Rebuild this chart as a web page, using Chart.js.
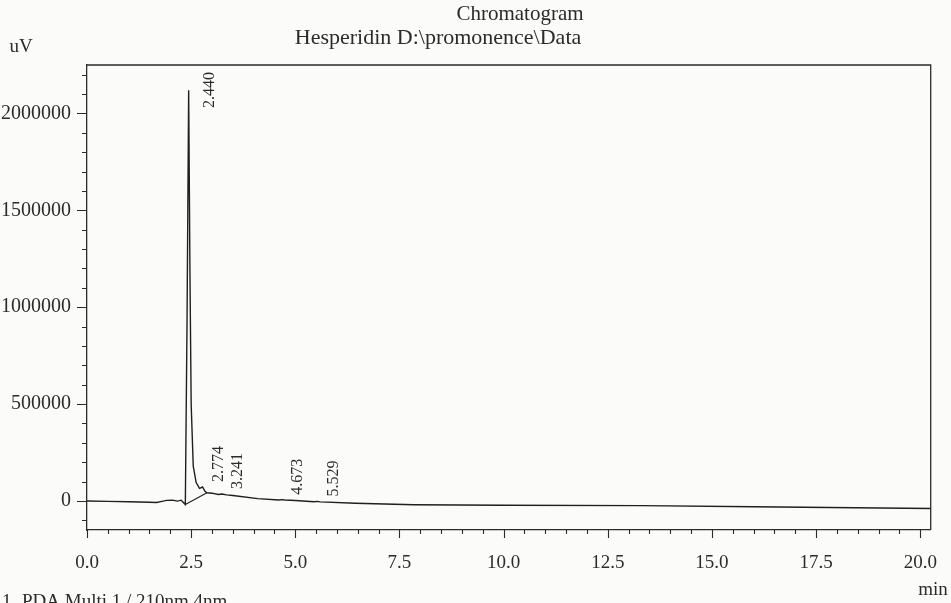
<!DOCTYPE html>
<html>
<head>
<meta charset="utf-8">
<title>Chromatogram</title>
<script src="https://cdn.jsdelivr.net/npm/chart.js@4.4.1/dist/chart.umd.min.js"></script>
<style>
  html, body { margin: 0; padding: 0; background: #fbfbf9; }
  #chromatogram { display: block; }
</style>
</head>
<body>
<canvas id="chromatogram" width="951" height="603"></canvas>
<script>
// retention time (min) and detector response (uV)
var times = [0, 0.5, 1.0, 1.5, 1.67, 1.8, 1.91, 2.05, 2.17, 2.26,
  2.36, 2.40, 2.44, 2.47, 2.50, 2.55, 2.62, 2.70, 2.774, 2.83,
  2.88, 3.0, 3.15, 3.241, 3.35, 3.5, 4.1, 4.6, 4.673, 4.75,
  5.0, 5.45, 5.529, 5.6, 6.44, 7.85, 10.0, 13.3, 16.0, 20.25];
var signal = [0, -2000, -4000, -7000, -8000, -2000, 3000, 4000, -1000, 4000,
  -18000, 900000, 2120000, 1200000, 500000, 180000, 95000, 65000, 72000, 50000,
  42000, 40000, 33000, 36000, 31000, 28000, 12000, 5000, 6500, 4500,
  2500, -4000, -2500, -5000, -12000, -20000, -22000, -24000, -30000, -39000];

// integration baseline drawn under the main peak
var baseTimes = [2.36, 2.88];
var baseSignal = [-18000, 42000];

// peak table
var peakTimes = [2.440, 2.774, 3.241, 4.673, 5.529];
var peakHeights = [2120000, 72000, 36000, 6500, -2500];

// axis ticks (labelled ones; unlabelled minor ticks every 0.5 min / 100000 uV)
var xTickValues = [0, 2.5, 5, 7.5, 10, 12.5, 15, 17.5, 20];
var xTickLabels = ["0.0", "2.5", "5.0", "7.5", "10.0", "12.5", "15.0", "17.5", "20.0"];
var yTickValues = [0, 500000, 1000000, 1500000, 2000000];
var yTickLabels = ["0", "500000", "1000000", "1500000", "2000000"];
var xMinorStep = 0.5;
var yMinorStep = 100000;

var ink = "#2b2b2b";
var serif = "'Liberation Serif', 'Times New Roman', serif";

function toPoints(xs, ys) {
  return xs.map(function (x, i) { return { x: x, y: ys[i] }; });
}

function labelFor(values, labels, v) {
  for (var i = 0; i < values.length; i++) {
    if (Math.abs(values[i] - v) < 1e-6) return labels[i];
  }
  return "";
}

// every multiple of the minor step that falls inside the axis range
function minorTicks(scale, step) {
  var ticks = [];
  var n = Math.ceil(scale.min / step - 1e-9);
  for (; n * step <= scale.max + 1e-9; n++) {
    ticks.push({ value: Math.round(n * step * 1000) / 1000 });
  }
  scale.ticks = ticks;
}

// frame, minor/major tick marks, peak labels and loose text
var decorations = {
  id: "decorations",
  afterDraw: function (chart) {
    var ctx = chart.ctx;
    var area = chart.chartArea;
    var xs = chart.scales.x;
    var ys = chart.scales.y;

    ctx.save();
    ctx.strokeStyle = ink;
    ctx.lineWidth = 1.3;
    ctx.beginPath();
    ctx.moveTo(area.left, area.top);
    ctx.lineTo(area.right, area.top);
    ctx.lineTo(area.right, area.bottom);
    ctx.stroke();

    ctx.lineWidth = 1.1;
    ctx.beginPath();
    ys.ticks.forEach(function (t) {
      var y = Math.round(ys.getPixelForValue(t.value)) + 0.5;
      var len = t.label ? 10 : 5;
      ctx.moveTo(area.left - len, y);
      ctx.lineTo(area.left, y);
    });
    xs.ticks.forEach(function (t) {
      var x = Math.round(xs.getPixelForValue(t.value)) + 0.5;
      var len = t.label ? 8 : 4;
      ctx.moveTo(x, area.bottom);
      ctx.lineTo(x, area.bottom + len);
    });
    ctx.stroke();

    // peak retention times, written upwards next to each peak
    ctx.fillStyle = ink;
    ctx.font = "16px " + serif;
    ctx.textAlign = "left";
    ctx.textBaseline = "middle";
    peakTimes.forEach(function (rt, i) {
      var text = rt.toFixed(3);
      var w = ctx.measureText(text).width;
      var px = xs.getPixelForValue(rt) + (i === 0 ? 21 : 16);
      var py = ys.getPixelForValue(peakHeights[i]) - 5;
      py = Math.max(py, area.top + 7 + w);
      ctx.save();
      ctx.translate(px, py);
      ctx.rotate(-Math.PI / 2);
      ctx.fillText(text, 0, 0);
      ctx.restore();
    });

    ctx.textAlign = "center";
    ctx.font = "21px " + serif;
    ctx.fillText("Chromatogram", 520, 14);
    ctx.font = "22px " + serif;
    ctx.fillText("Hesperidin D:\\promonence\\Data", 438, 38);
    ctx.font = "19px " + serif;
    ctx.fillText("uV", 21, 47);
    ctx.fillText("min", 933, 590);
    ctx.textAlign = "left";
    ctx.textBaseline = "alphabetic";
    ctx.fillText("1", 2, 607);
    ctx.fillText("PDA Multi 1 / 210nm 4nm", 22, 607);
    ctx.restore();
  }
};

var ctx = document.getElementById("chromatogram").getContext("2d");
var chart = new Chart(ctx, {
  type: "line",
  data: {
    datasets: [
      {
        label: "PDA Multi 1 / 210nm 4nm",
        data: toPoints(times, signal),
        borderColor: "#1f1f1f",
        borderWidth: 1.4,
        pointRadius: 0,
        tension: 0,
        fill: false,
      },
      {
        label: "baseline",
        data: toPoints(baseTimes, baseSignal),
        borderColor: "#1f1f1f",
        borderWidth: 1.1,
        pointRadius: 0,
        tension: 0,
        fill: false,
      },
    ],
  },
  options: {
    responsive: false,
    animation: false,
    devicePixelRatio: 1,
    layout: {
      padding: { top: 65, right: 7, left: 0, bottom: 0 },
    },
    plugins: {
      legend: { display: false },
      tooltip: { enabled: false },
    },
    scales: {
      x: {
        type: "linear",
        min: 0,
        max: 20.25,
        afterBuildTicks: function (s) { minorTicks(s, xMinorStep); },
        afterFit: function (s) { s.height = 73; },
        grid: { display: false },
        border: { display: true, color: ink, width: 1.3 },
        ticks: {
          autoSkip: false,
          maxRotation: 0,
          padding: 14,
          color: ink,
          font: { family: serif, size: 19 },
          callback: function (v) { return labelFor(xTickValues, xTickLabels, v); },
        },
      },
      y: {
        type: "linear",
        min: -150000,
        max: 2250000,
        afterBuildTicks: function (s) { minorTicks(s, yMinorStep); },
        afterFit: function (s) { s.width = 87; },
        grid: { display: false },
        border: { display: true, color: ink, width: 1.3 },
        ticks: {
          autoSkip: false,
          padding: 8,
          color: ink,
          font: { family: serif, size: 20 },
          callback: function (v) { return labelFor(yTickValues, yTickLabels, v); },
        },
      },
    },
  },
  plugins: [decorations],
});
</script>
</body>
</html>
